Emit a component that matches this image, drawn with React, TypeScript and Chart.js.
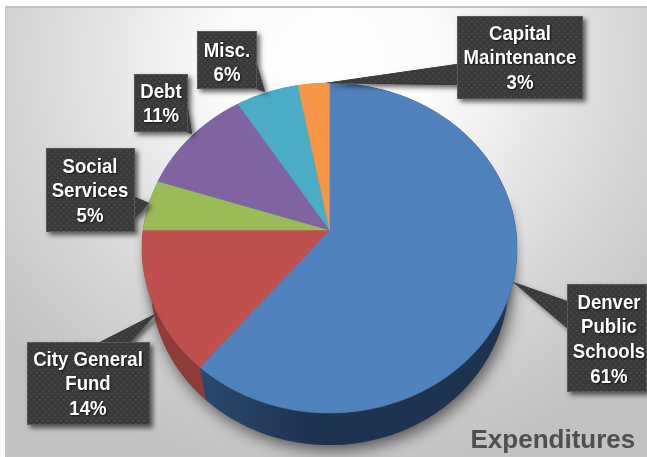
import React, { useEffect, useRef } from "react";
import { Chart, registerables } from "chart.js";

Chart.register(...registerables);

const categories = ["Denver Public Schools", "City General Fund", "Social Services", "Debt", "Misc.", "Capital Maintenance"];
const shares = [61, 14, 5, 11, 6, 3];
const sliceColors = ["#4f81bd", "#c0504d", "#9bbb59", "#8064a2", "#4bacc6", "#f79646"];
const wallColors = [
  ["#2f5480", "#1e3350", "#1e3350"],
  ["#8f3c3a", "#8a3937", "#7c3331"],
  ["#6f8740", "#6f8740", "#6f8740"],
  ["#5c4875", "#5c4875", "#5c4875"],
  ["#367c8f", "#367c8f", "#367c8f"],
  ["#b26c32", "#b26c32", "#b26c32"],
];
const chartTitle = "Expenditures";

type Callout = {
  lines: string[];
  box: [number, number, number, number];
  wedge: [number, number][];
  textX: number;
  firstLineY: number;
};

const callouts: Callout[] = [
  { lines: ["Misc.", "6%"], box: [197, 31, 60, 58], wedge: [[257, 65], [265, 92], [257, 89]], textX: 227, firstLineY: 50 },
  { lines: ["Debt", "11%"], box: [134, 74, 54, 58], wedge: [[188, 108], [192, 134], [187, 132]], textX: 161, firstLineY: 91 },
  { lines: ["Social", "Services", "5%"], box: [46, 148, 89, 84], wedge: [[135, 197], [149, 203], [135, 218]], textX: 90, firstLineY: 166 },
  { lines: ["Capital", "Maintenance", "3%"], box: [457, 16, 126, 83], wedge: [[457, 64], [325, 83], [457, 85]], textX: 520, firstLineY: 33 },
  { lines: ["City General", "Fund", "14%"], box: [27, 342, 123, 83], wedge: [[100, 342], [157, 313], [130, 342]], textX: 88, firstLineY: 359 },
  { lines: ["Denver", "Public", "Schools", "61%"], box: [567, 284, 80, 108], wedge: [[567, 301], [513, 282], [567, 328]], textX: 609, firstLineY: 302 },
];

const projector = (cx: number, ellipseY: number, rx: number, ry: number, offset: number) => {
  const k = -offset / ry;
  const a = (ry + offset) * (1 + k);
  const c = rx * Math.sqrt(1 - k * k);
  const apexY = ellipseY - offset;
  return {
    apex: [cx, apexY] as [number, number],
    at: (angle: number): [number, number] => {
      const w = 1 + k * Math.sin(angle);
      return [cx + (c * Math.cos(angle)) / w, apexY + (a * Math.sin(angle)) / w];
    },
  };
};

const topFace = projector(329.5, 248, 187.5, 165, 18);
const bottomFace = projector(329.5, 282, 179, 163, 18);

const rim = (ctx: CanvasRenderingContext2D, p: ReturnType<typeof projector>, from: number, to: number, join: boolean) => {
  const steps = Math.max(4, Math.ceil(Math.abs(to - from) * 60));
  for (let i = 0; i <= steps; i++) {
    const [x, y] = p.at(from + ((to - from) * i) / steps);
    if (i === 0 && !join) ctx.moveTo(x, y);
    else ctx.lineTo(x, y);
  }
};

const dotPattern = (ctx: CanvasRenderingContext2D) => {
  const tile = document.createElement("canvas");
  tile.width = 6;
  tile.height = 6;
  const t = tile.getContext("2d")!;
  t.fillStyle = "#3a3a3a";
  t.fillRect(0, 0, 6, 6);
  t.fillStyle = "#4d4d4d";
  t.fillRect(0, 0, 1.5, 1.5);
  t.fillRect(3, 3, 1.5, 1.5);
  return ctx.createPattern(tile, "repeat")!;
};

const stagePlugin = {
  id: "stage",
  beforeDraw(chart: Chart) {
    const ctx = chart.ctx;
    const { width, height } = chart;
    ctx.save();
    ctx.fillStyle = "#ffffff";
    ctx.fillRect(0, 0, width, height);
    ctx.fillStyle = "#c4c4c4";
    ctx.fillRect(5, 6, width - 5, height - 6);
    ctx.beginPath();
    ctx.rect(6, 8, width - 6, height - 9);
    ctx.clip();
    ctx.translate(330, 60);
    ctx.scale(1, 0.95);
    const g = ctx.createRadialGradient(0, 0, 0, 0, 0, 440);
    g.addColorStop(0, "#ffffff");
    g.addColorStop(0.25, "#fbfbfb");
    g.addColorStop(0.5, "#e6e6e6");
    g.addColorStop(0.75, "#d2d2d2");
    g.addColorStop(1, "#c2c2c2");
    ctx.fillStyle = g;
    ctx.fillRect(-340, -70, 700, 520);
    ctx.restore();
  },
  beforeDatasetDraw(chart: Chart) {
    const ctx = chart.ctx;
    const arcs = chart.getDatasetMeta(0).data as any[];
    ctx.save();

    ctx.save();
    ctx.shadowColor = "rgba(0,0,0,0.6)";
    ctx.shadowBlur = 16;
    ctx.shadowOffsetX = 3;
    ctx.shadowOffsetY = 5;
    ctx.fillStyle = "#555";
    ctx.beginPath();
    rim(ctx, bottomFace, 0, Math.PI * 2, false);
    ctx.closePath();
    ctx.fill();
    ctx.shadowColor = "rgba(0,0,0,0.3)";
    ctx.shadowBlur = 9;
    ctx.shadowOffsetX = 0;
    ctx.shadowOffsetY = 3;
    ctx.beginPath();
    rim(ctx, topFace, -0.2, Math.PI + 0.2, false);
    ctx.closePath();
    ctx.fill();
    ctx.restore();

    arcs.forEach((arc, i) => {
      const stops = wallColors[i];
      const g = ctx.createLinearGradient(140, 0, 520, 0);
      g.addColorStop(0, stops[0]);
      g.addColorStop(i === 0 ? 0.45 : 0.5, stops[1]);
      g.addColorStop(1, stops[2]);
      ctx.fillStyle = g;
      ctx.beginPath();
      rim(ctx, topFace, arc.startAngle, arc.endAngle, false);
      rim(ctx, bottomFace, arc.endAngle, arc.startAngle, true);
      ctx.closePath();
      ctx.fill();
    });

    arcs.forEach((arc) => {
      ctx.fillStyle = arc.options.backgroundColor;
      ctx.strokeStyle = arc.options.backgroundColor;
      ctx.lineWidth = 0.5;
      ctx.beginPath();
      ctx.moveTo(topFace.apex[0], topFace.apex[1]);
      rim(ctx, topFace, arc.startAngle, arc.endAngle, true);
      ctx.closePath();
      ctx.fill();
      ctx.stroke();
    });
    ctx.restore();
    return false;
  },
  afterDraw(chart: Chart) {
    const ctx = chart.ctx;
    const pattern = dotPattern(ctx);
    callouts.forEach((c) => {
      const [x, y, w, h] = c.box;
      ctx.save();
      ctx.beginPath();
      ctx.rect(x, y, w, h);
      ctx.moveTo(c.wedge[0][0], c.wedge[0][1]);
      ctx.lineTo(c.wedge[1][0], c.wedge[1][1]);
      ctx.lineTo(c.wedge[2][0], c.wedge[2][1]);
      ctx.closePath();
      ctx.shadowColor = "rgba(0,0,0,0.6)";
      ctx.shadowBlur = 5;
      ctx.shadowOffsetX = 3;
      ctx.shadowOffsetY = 3;
      ctx.fillStyle = "#3a3a3a";
      ctx.fill();
      ctx.shadowColor = "transparent";
      ctx.fillStyle = pattern;
      ctx.fill();
      ctx.strokeStyle = "rgba(255,255,255,0.14)";
      ctx.lineWidth = 1;
      ctx.strokeRect(x + 0.5, y + 0.5, w - 1, h - 1);
      ctx.fillStyle = "#ffffff";
      ctx.font = 'bold 19px "Liberation Sans", Arial, sans-serif';
      ctx.textAlign = "center";
      ctx.textBaseline = "middle";
      ctx.shadowColor = "rgba(0,0,0,0.7)";
      ctx.shadowBlur = 2;
      ctx.shadowOffsetX = 1;
      ctx.shadowOffsetY = 1;
      c.lines.forEach((line, i) => {
        ctx.save();
        ctx.translate(c.textX, c.firstLineY + i * 24.8 + 1);
        ctx.scale(0.98, 1.07);
        ctx.fillText(line, 0, 0);
        ctx.restore();
      });
      ctx.restore();
    });
    ctx.save();
    ctx.fillStyle = "#505050";
    ctx.font = 'bold 26px "Liberation Sans", Arial, sans-serif';
    ctx.textAlign = "left";
    ctx.textBaseline = "alphabetic";
    ctx.fillText(chartTitle, 470.5, 448);
    ctx.restore();
  },
};

export default function App() {
  const ref = useRef<HTMLCanvasElement>(null);
  useEffect(() => {
    const chart = new Chart(ref.current!, {
      type: "pie",
      data: {
        labels: categories,
        datasets: [{ data: shares, backgroundColor: sliceColors, borderWidth: 0 }],
      },
      options: {
        animation: false,
        responsive: false,
        plugins: { legend: { display: false }, tooltip: { enabled: false } },
      },
      plugins: [stagePlugin as any],
    });
    return () => chart.destroy();
  }, []);
  return (
    <div style={{ position: "fixed", left: 0, top: 0, width: 647, height: 457 }}>
      <canvas ref={ref} width={647} height={457} style={{ display: "block", filter: "blur(0.4px)" }} />
    </div>
  );
}
